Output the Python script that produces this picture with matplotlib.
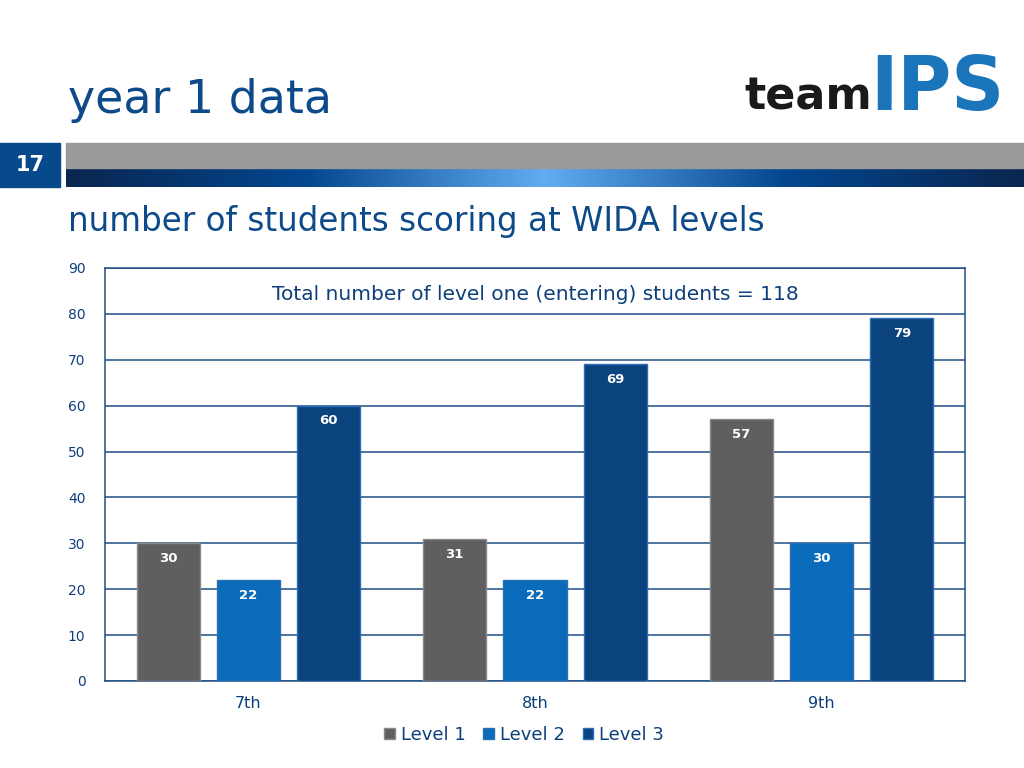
import numpy as np
import matplotlib.pyplot as plt
from matplotlib.colors import LinearSegmentedColormap
from matplotlib.patches import Rectangle

# Podaci
grades = ['7th', '8th', '9th']
level1 = [30, 31, 57]
level2 = [22, 22, 30]
level3 = [60, 69, 79]
series_names = ['Level 1', 'Level 2', 'Level 3']
series_colors = ['#5f5f5f', '#0a6bbb', '#0b437f']
yticks = [0, 10, 20, 30, 40, 50, 60, 70, 80, 90]

navy = '#0d3f7a'
plt.rcParams['font.family'] = ['DejaVu Sans']

fig = plt.figure(figsize=(10.24, 7.68), dpi=100)

# Zaglavlje slajda
fig.text(68 / 1024, 1 - 113 / 768, 'year 1 data', fontsize=33, color='#0d4a8a',
         va='baseline', ha='left')
fig.text(744 / 1024, 1 - 110 / 768, 'team', fontsize=32, fontweight='bold',
         color='#1a1a1a', va='baseline', ha='left')
fig.text(870 / 1024, 1 - 110 / 768, 'IPS', fontsize=53, fontweight='bold',
         color='#1b75bb', va='baseline', ha='left')

fig.patches.append(Rectangle((0, 1 - 187 / 768), 60 / 1024, 44 / 768,
                             transform=fig.transFigure, color='#064a8c'))
fig.text(30 / 1024, 1 - 165 / 768, '17', fontsize=15, fontweight='bold',
         color='white', ha='center', va='center')
fig.patches.append(Rectangle((66 / 1024, 1 - 168 / 768), 958 / 1024, 25 / 768,
                             transform=fig.transFigure, color='#9a9a9a'))
grad_ax = fig.add_axes([66 / 1024, 1 - 187 / 768, 958 / 1024, 19 / 768])
cmap = LinearSegmentedColormap.from_list(
    'band', ['#0a2650', '#03478f', '#62acf2', '#03478f', '#0a2650'])
grad_ax.imshow(np.linspace(0, 1, 512)[None, :], aspect='auto', cmap=cmap)
grad_ax.axis('off')

fig.text(68 / 1024, 1 - 221 / 768, 'number of students scoring at WIDA levels',
         fontsize=23.5, color='#0d4a8a', va='center', ha='left')

# Grafikon
ax = fig.add_axes([105 / 1024, 1 - 681 / 768, 860 / 1024, 413 / 768])
x = np.arange(len(grades))
w = 0.22
step = 0.28
for i, (vals, name, col) in enumerate(zip([level1, level2, level3], series_names, series_colors)):
    bars = ax.bar(x + (i - 1) * step, vals, w, color=col, label=name,
                  edgecolor='#2a6fb5' if i else '#8a8a8a', linewidth=1.0, zorder=3)
    for b, v in zip(bars, vals):
        ax.annotate(str(v), (b.get_x() + b.get_width() / 2, v), xytext=(0, -11),
                    textcoords='offset points', ha='center', va='center',
                    color='white', fontsize=9.5, fontweight='bold', zorder=4)

ax.set_ylim(0, 90)
ax.set_xlim(-0.5, 2.5)
ax.set_yticks(yticks)
ax.set_xticks(x)
ax.set_xticklabels(grades)
ax.yaxis.grid(True, color='#1f4e82', linewidth=1.1, zorder=0)
ax.tick_params(axis='y', length=0, pad=14, labelsize=10, labelcolor=navy)
ax.tick_params(axis='x', length=0, pad=11, labelsize=11.5, labelcolor=navy)
for s in ax.spines.values():
    s.set_color('#1f4e82')
    s.set_linewidth(1.1)

ax.text(0.5, 0.935, 'Total number of level one (entering) students = 118',
        transform=ax.transAxes, ha='center', va='center', fontsize=14.5, color=navy)

leg = fig.legend(loc='center', bbox_to_anchor=(524 / 1024, 1 - 735 / 768), ncol=3,
                 frameon=False, fontsize=13, handlelength=0.6, handleheight=0.6,
                 handletextpad=0.3, columnspacing=1.0)
for t in leg.get_texts():
    t.set_color(navy)

plt.savefig('out.png', dpi=100)
